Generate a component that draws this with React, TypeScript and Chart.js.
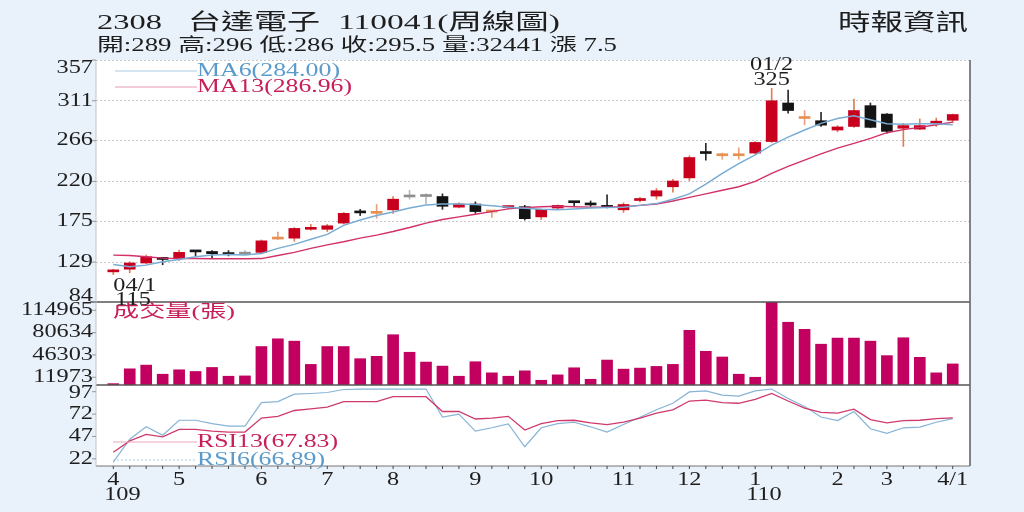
import React, { useEffect, useRef } from "react";
import { Chart, registerables } from "chart.js";

Chart.register(...registerables);

// ---------- text ----------
const stockCode = "2308";
const stockName = "台達電子";
const chartTitle = "110041(周線圖)";
const sourceLabel = "時報資訊";
const volumeTitle = "成交量(張)";
const lowMarkDate = "04/1";
const highMarkDate = "01/2";

// ---------- weekly candles (Apr 2020 - Apr 2021) ----------
const open = [118, 121, 128, 133, 133, 141, 141, 138, 138, 140, 155, 156, 166, 166, 173, 185, 184, 188, 202.5, 203, 203, 191, 194.5, 185.5, 190.5, 191.5, 180, 190, 196.5, 194, 193, 188, 198.5, 203.5, 214, 224, 252.5, 249, 249, 252, 265, 308.5, 291, 288.5, 278, 282, 305.5, 296, 280, 279, 285, 289];
const high = [121, 129.5, 137, 134, 142.5, 141.5, 142, 142, 142, 154, 163, 168, 171.5, 171.5, 185, 188.5, 194, 203, 210, 206, 206, 196, 197, 187, 192, 193, 189, 193.5, 197, 198, 205, 196, 202, 212, 222.5, 249, 263, 252, 258, 265, 325, 323, 300, 298, 283, 313, 308.5, 296.5, 285.5, 290.5, 291.5, 296];
const low = [115, 117, 127, 126, 131, 136, 134, 136, 137, 139, 154.5, 152.5, 165, 163.5, 172, 181.5, 178.5, 184, 200, 195, 188.5, 190, 184, 179.5, 189, 176.5, 177, 189, 192.5, 192, 190, 185, 197, 200, 208, 221, 244, 245, 245, 251, 264, 297, 284, 282, 276, 281, 280.5, 274.5, 259.5, 278.5, 282, 286];
const close = [119.5, 128, 135, 132, 140, 140.5, 138.5, 137.5, 138, 153, 155.5, 167, 168, 170, 184, 184.5, 184.5, 200, 202.5, 203, 192, 194.5, 186, 186, 191.5, 178, 188.5, 193, 196, 193.5, 190.5, 194, 200.5, 209.5, 220.5, 247, 251.5, 249.5, 249.5, 264, 311, 300, 291.5, 283.5, 281.5, 300, 281, 276.5, 283, 283, 288, 295.5];
const volume = [2100, 24900, 30600, 16600, 23400, 20800, 27000, 13500, 14000, 59200, 71100, 67500, 31700, 59200, 59200, 40500, 44100, 77400, 50400, 35300, 29100, 13500, 35800, 18700, 13500, 21800, 7300, 15600, 26500, 8800, 38400, 24400, 26000, 28600, 31700, 84100, 51900, 43100, 16600, 11900, 127700, 96600, 85700, 62800, 72200, 72200, 67500, 45200, 72700, 42600, 18700, 32441];
const ma6 = [126.4, 123.7, 125.6, 129.4, 132, 135, 136.9, 137.7, 137, 138.8, 144.5, 149, 154.7, 160.3, 170.5, 176.5, 181.5, 185.5, 190, 193.4, 194.5, 194.5, 194, 192.5, 191, 189.7, 188.5, 188, 189, 190, 190.5, 191, 193, 195, 200, 206, 217, 229, 240, 250, 261, 270, 278, 285.5, 291, 294, 289.5, 285, 284.5, 285, 285, 284.0];
const ma13 = [136.9, 136.5, 135, 133.5, 133, 133, 132.8, 132.8, 132.8, 133, 136.5, 140, 144.5, 148.5, 152, 156, 159.5, 163.5, 168, 173, 177, 180, 183, 186, 189, 190.5, 191.5, 192, 191.5, 191, 191, 191.5, 193, 194.5, 198, 202, 206, 210, 214, 220, 229, 237, 244, 251, 257.5, 263, 268.5, 275, 278.5, 281, 284, 286.96];
const rsi13 = [29.3, 42.1, 49.4, 46.5, 54.9, 54.9, 53, 51.9, 51.9, 67.6, 69.5, 76, 77.9, 79.7, 85.9, 85.9, 85.9, 91.4, 91.4, 91.4, 74.9, 74.9, 66.5, 67.6, 69.5, 54.1, 61.4, 64.7, 65.1, 62.2, 60.3, 62.9, 67.6, 73.1, 76.8, 86.6, 87.7, 84.8, 84.1, 88.4, 95, 86.6, 78.6, 73.8, 73.1, 77.5, 65.8, 62.2, 64.7, 65.1, 66.9, 67.83];
const rsi6 = [18.4, 43.9, 57.8, 48.3, 65.1, 65.1, 61.4, 58.5, 58.5, 84.8, 85.9, 94.3, 95, 96.1, 99.5, 100, 100, 100, 100, 100, 68.7, 72, 53, 56.7, 61, 35.5, 56.7, 61.4, 62.9, 57.8, 51.9, 60.3, 68.4, 76.8, 84.1, 96.8, 97.9, 93.2, 92.1, 97.9, 100, 89.5, 80.4, 68.7, 64.7, 74.9, 55.6, 50.5, 56.7, 57.4, 62.9, 66.89];

// ---------- axes ----------
const monthTickIndex = [0, 4, 9, 13, 17, 22, 26, 31, 35, 39, 44, 47, 51];
const monthTickLabels = ["4", "5", "6", "7", "8", "9", "10", "11", "12", "1", "2", "3", "4/1"];
const yearTickLabels = ["109", "", "", "", "", "", "", "", "", "110", "", "", ""];
const priceTicks = [84, 129, 175, 220, 266, 311, 357];
const volumeTicks = [11973, 46303, 80634, 114965];
const rsiTicks = [22, 47, 72, 97];
const priceMin = 84;
const priceMax = 357;
const volumeMax = 127739;
const rsiMin = 14;
const rsiMax = 104.5;

// ---------- style ----------
const BG = "#e9f1fa";
const SERIF = "'Liberation Serif','DejaVu Serif','Noto Sans CJK TC',serif";
const MIXED = "'Liberation Serif','Noto Sans CJK TC',serif";
const UP = "#c8001e";
const UP_WICK = "#e07e50";
const UP_TINY = "#e8904f";
const UP_TINY_WICK = "#eba07a";
const DOWN = "#141414";
const DOWN_WICK = "#2a2a2a";
const FLAT = "#8f8f8f";
const FLAT_WICK = "#b8b8b8";
const MA6_COLOR = "#78acd4";
const MA13_COLOR = "#d2306a";
const VOL_COLOR = "#c1005f";
const BLUE_TEXT = "#5b9bcb";
const PINK_TEXT = "#c81e5a";

const idx = open.map((_, i) => i);
const kind = (i: number) => {
  const d = close[i] - open[i];
  if (d > 0.6) return "up";
  if (d > 0) return "upTiny";
  if (d < 0) return "down";
  return "flat";
};
const bodyColor = idx.map((i) => ({ up: UP, upTiny: UP_TINY, down: DOWN, flat: FLAT } as any)[kind(i)]);
const wickColor = idx.map((i) => ({ up: UP_WICK, upTiny: UP_TINY_WICK, down: DOWN_WICK, flat: FLAT_WICK } as any)[kind(i)]);

const fmt = (v: number) => String(Math.round(v * 100) / 100);

function drawText(ctx: CanvasRenderingContext2D, s: string, x: number, y: number, size: number, color: string, align: "left" | "right" | "center", sx = 1.35, family = SERIF) {
  ctx.save();
  ctx.font = `${size}px ${family}`;
  ctx.fillStyle = color;
  ctx.textBaseline = "middle";
  ctx.textAlign = "left";
  const w = ctx.measureText(s).width * sx;
  const x0 = align === "right" ? x - w : align === "center" ? x - w / 2 : x;
  ctx.translate(x0, y);
  ctx.scale(sx, 1);
  ctx.fillText(s, 0, 0);
  ctx.restore();
  return w;
}

function drawFit(ctx: CanvasRenderingContext2D, s: string, x: number, y: number, size: number, color: string, width: number, family = MIXED) {
  ctx.save();
  ctx.font = `${size}px ${family}`;
  const w = ctx.measureText(s).width;
  ctx.restore();
  drawText(ctx, s, x, y, size, color, "left", width / w, family);
}

function line(ctx: CanvasRenderingContext2D, x1: number, y1: number, x2: number, y2: number, color: string, width = 1, dash: number[] = []) {
  ctx.save();
  ctx.strokeStyle = color;
  ctx.lineWidth = width;
  ctx.setLineDash(dash);
  ctx.beginPath();
  ctx.moveTo(x1, y1);
  ctx.lineTo(x2, y2);
  ctx.stroke();
  ctx.restore();
}

const decor = {
  id: "decor",
  beforeDraw(chart: any) {
    const { ctx, chartArea: a, width, height } = chart;
    ctx.save();
    ctx.fillStyle = BG;
    ctx.fillRect(0, 0, width, height);
    ctx.fillStyle = "#ffffff";
    ctx.fillRect(a.left, a.top, a.right - a.left, a.bottom - a.top);
    ctx.restore();
  },
  afterDraw(chart: any) {
    const { ctx, chartArea: a, scales } = chart;
    const xs = scales.x, yp = scales.yPrice, yv = scales.yVol, yr = scales.yRsi;
    const L = open.length - 1;

    // panel frame
    line(ctx, a.left - 6, yv.top, a.right, yv.top, "#555", 1.3);
    line(ctx, a.left, yv.bottom, a.right, yv.bottom, "#555", 1.3);
    line(ctx, a.right, a.top, a.right, a.bottom, "#666", 1.6);
    line(ctx, a.left, a.bottom, a.right, a.bottom, "#777", 1.2);
    line(ctx, a.left, a.top, a.left, a.bottom, "#c4c4c4", 1);
    idx.forEach((i) => {
      const x = xs.getPixelForValue(i);
      line(ctx, x, a.bottom, x, a.bottom + 3, "#444", 1);
    });

    // y labels
    const groups: [any, number[]][] = [[yp, priceTicks], [yv, volumeTicks], [yr, rsiTicks]];
    groups.forEach(([s, ticks]) => {
      ticks.forEach((v) => {
        const py = s.getPixelForValue(v);
        const ly = Math.min(Math.max(py, s.top + 8), s.bottom - 6);
        line(ctx, a.left - 4, py, a.left, py, "#999", 1);
        drawText(ctx, String(v), a.left - 3, ly, 18, "#1e1e1e", "right");
      });
    });

    // x labels
    monthTickIndex.forEach((m, k) => {
      const x = xs.getPixelForValue(m);
      const w = drawText(ctx, monthTickLabels[k], x, a.bottom + 14, 18, "#1e1e1e", "center");
      if (yearTickLabels[k]) drawText(ctx, yearTickLabels[k], x - w / 2 - 3, a.bottom + 29, 18, "#1e1e1e", "left");
    });

    // price legend
    line(ctx, a.left + 19, yp.top + 11, a.left + 101, yp.top + 11, "#a9c9e2", 1);
    drawFit(ctx, `MA6(${ma6[L].toFixed(2)})`, a.left + 101, yp.top + 11, 18, BLUE_TEXT, 143, SERIF);
    line(ctx, a.left + 19, yp.top + 27, a.left + 101, yp.top + 27, "#e79ab5", 1);
    drawFit(ctx, `MA13(${ma13[L].toFixed(2)})`, a.left + 101, yp.top + 27, 18, PINK_TEXT, 155, SERIF);

    // volume legend
    drawFit(ctx, volumeTitle, a.left + 17, yv.top + 11, 17, PINK_TEXT, 122);

    // rsi legend
    line(ctx, a.left + 17, yr.bottom - 24, a.left + 101, yr.bottom - 24, "#eaa6bd", 1);
    drawFit(ctx, `RSI13(${rsi13[L].toFixed(2)})`, a.left + 101, yr.bottom - 24, 18, PINK_TEXT, 141, SERIF);
    line(ctx, a.left + 17, yr.bottom - 6, a.left + 101, yr.bottom - 6, "#a9c9e2", 1, [2, 2]);
    drawFit(ctx, `RSI6(${rsi6[L].toFixed(2)})`, a.left + 101, yr.bottom - 6, 18, BLUE_TEXT, 128, SERIF);

    // extreme marks
    const lowVal = Math.min(...low);
    const lowI = low.indexOf(lowVal);
    const lx = xs.getPixelForValue(lowI);
    const ly = yp.getPixelForValue(lowVal);
    drawText(ctx, lowMarkDate, lx, ly + 12, 18, "#1e1e1e", "left");
    drawText(ctx, fmt(lowVal), lx + 2, ly + 26, 18, "#1e1e1e", "left");
    const highVal = Math.max(...high);
    const highI = high.indexOf(highVal);
    const hx = xs.getPixelForValue(highI);
    const hy = yp.getPixelForValue(highVal);
    drawText(ctx, highMarkDate, hx, hy - 23, 18, "#1e1e1e", "center");
    drawText(ctx, fmt(highVal), hx, hy - 8, 18, "#1e1e1e", "center");

    // header
    drawFit(ctx, stockCode, a.left + 1, 23, 22, "#1e1e1e", 65);
    drawFit(ctx, stockName, a.left + 92, 23, 22, "#1e1e1e", 132);
    drawFit(ctx, chartTitle, a.left + 242, 23, 22, "#1e1e1e", 222);
    const info = `開:${fmt(open[L])} 高:${fmt(high[L])} 低:${fmt(low[L])} 收:${fmt(close[L])} 量:${volume[L]} 漲 ${fmt(close[L] - close[L - 1])}`;
    drawFit(ctx, info, a.left + 1, 46, 18, "#1e1e1e", 520);
    drawFit(ctx, sourceLabel, a.right - 132, 24, 23, "#1e1e1e", 130);
  },
};

export default function App() {
  const ref = useRef<HTMLCanvasElement | null>(null);
  useEffect(() => {
    if (!ref.current) return;
    const pts = (arr: number[]) => arr.map((v, i) => ({ x: i, y: v }));
    const chart = new Chart(ref.current, {
      data: {
        datasets: [
          { type: "line", yAxisID: "yPrice", data: pts(ma6), borderColor: MA6_COLOR, borderWidth: 1.5, pointRadius: 0, tension: 0 } as any,
          { type: "line", yAxisID: "yPrice", data: pts(ma13), borderColor: MA13_COLOR, borderWidth: 1.4, pointRadius: 0, tension: 0 } as any,
          { type: "line", yAxisID: "yRsi", data: pts(rsi13), borderColor: "#cf3a6d", borderWidth: 1.3, pointRadius: 0, tension: 0 } as any,
          { type: "line", yAxisID: "yRsi", data: pts(rsi6), borderColor: "#86b3d6", borderWidth: 1.2, pointRadius: 0, tension: 0 } as any,
          { type: "bar", yAxisID: "yPrice", data: idx.map((i) => ({ x: i, y: [open[i], close[i]] })), backgroundColor: bodyColor, barThickness: 11, minBarLength: 2, grouped: false } as any,
          { type: "bar", yAxisID: "yPrice", data: idx.map((i) => ({ x: i, y: [low[i], high[i]] })), backgroundColor: wickColor, barThickness: 1, grouped: false } as any,
          { type: "bar", yAxisID: "yVol", data: pts(volume), backgroundColor: VOL_COLOR, barThickness: 11, grouped: false } as any,
        ],
      },
      options: {
        responsive: false,
        animation: false,
        events: [],
        layout: { padding: { left: 96, right: 54, top: 60, bottom: 46 } },
        plugins: { legend: { display: false }, tooltip: { enabled: false } },
        scales: {
          x: {
            type: "linear", position: "bottom", min: -1.05, max: 52.05, offset: false,
            ticks: { display: false }, grid: { display: false, offset: false }, border: { display: false },
            afterFit: (s: any) => { s.height = 0; },
          },
          yPrice: {
            type: "linear", position: "left", stack: "panes", stackWeight: 242, weight: 3,
            min: priceMin, max: priceMax,
            afterBuildTicks: (s: any) => { s.ticks = priceTicks.map((v) => ({ value: v })); },
            ticks: { display: false },
            grid: { color: (c: any) => (c.tick && c.tick.value === priceMin ? "rgba(0,0,0,0)" : "#c9c9c9"), drawTicks: false, lineWidth: 1 },
            border: { display: false, dash: [2, 2] },
            afterFit: (s: any) => { s.width = 0; },
          },
          yVol: {
            type: "linear", position: "left", stack: "panes", stackWeight: 83, weight: 2,
            min: 0, max: volumeMax,
            ticks: { display: false }, grid: { display: false }, border: { display: false },
            afterFit: (s: any) => { s.width = 0; },
          },
          yRsi: {
            type: "linear", position: "left", stack: "panes", stackWeight: 81, weight: 1,
            min: rsiMin, max: rsiMax,
            ticks: { display: false }, grid: { display: false }, border: { display: false },
            afterFit: (s: any) => { s.width = 0; },
          },
        } as any,
      },
      plugins: [decor as any],
    });
    return () => chart.destroy();
  }, []);
  return (
    <div style={{ position: "fixed", left: 0, top: 0, width: 1024, height: 512, background: BG }}>
      <canvas ref={ref} width={1024} height={512} style={{ display: "block", width: 1024, height: 512 }} />
    </div>
  );
}
